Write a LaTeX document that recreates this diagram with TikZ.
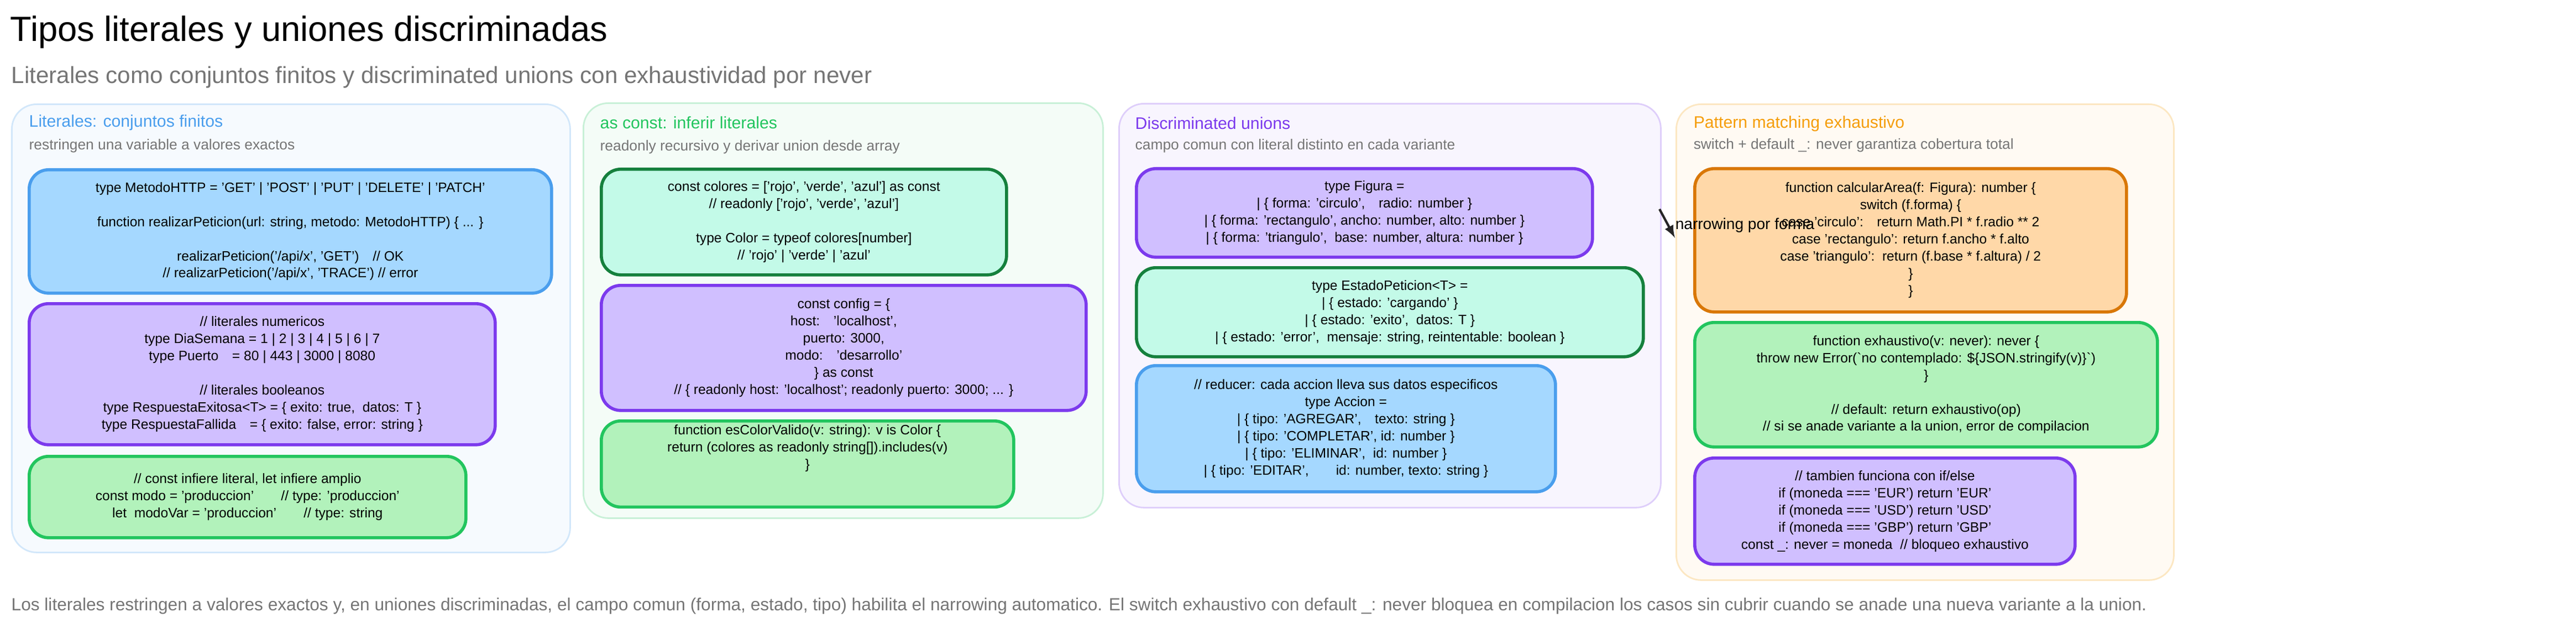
\documentclass[tikz,border=0pt]{standalone}
\usepackage{fontspec}
\setmainfont{Liberation Sans}
\usetikzlibrary{positioning}

\definecolor{azulF}{HTML}{A5D8FF}\definecolor{azulL}{HTML}{4A9EED}
\definecolor{violF}{HTML}{D0BFFF}\definecolor{violL}{HTML}{7C3AED}
\definecolor{verdeF}{HTML}{B2F2BB}\definecolor{verdeL}{HTML}{22C55E}
\definecolor{mentaF}{HTML}{C3FAE8}\definecolor{mentaL}{HTML}{15803D}
\definecolor{naraF}{HTML}{FFD8A8}\definecolor{naraL}{HTML}{D97706}
\definecolor{ambarT}{HTML}{F59E0B}\definecolor{grisT}{HTML}{757575}

\tikzset{
  panel/.style={draw=#1!25,fill=#1!5,line width=0.8pt,rounded corners=0.45cm,anchor=north west,inner sep=0pt},
  box/.style={draw=#1L,fill=#1F,line width=1.6pt,rounded corners=0.35cm,anchor=north west,
    align=center,inner sep=2pt,font=\fontsize{7}{8.8}\selectfont},
  ptitle/.style={anchor=west,inner sep=0pt,font=\fontsize{8.6}{10}\selectfont,text=#1},
  psub/.style={anchor=west,inner sep=0pt,font=\fontsize{7.5}{9}\selectfont,text=grisT}
}

\begin{document}
\begin{tikzpicture}[x=1cm,y=1cm]
  \useasboundingbox (0,0) rectangle (46.6,-11.35);
  \fill[white] (0,0) rectangle (46.6,-11.35);

  % cabecera
  \node[anchor=west,inner sep=0pt,font=\fontsize{18}{20}\selectfont] (titulo) at (0.18,-0.58) {Tipos literales y uniones discriminadas};
  \node[anchor=west,inner sep=0pt,font=\fontsize{12}{14}\selectfont,text=grisT] (subtitulo) at (0.2,-1.40) {Literales como conjuntos finitos y discriminated unions con exhaustividad por never};

  % paneles
  \node[panel=azulL,minimum width=10.1cm,minimum height=8.1cm] (p1) at (0.20,-1.87) {};
  \node[panel=verdeL,minimum width=9.4cm,minimum height=7.5cm] (p2) at (10.54,-1.85) {};
  \node[panel=violL,minimum width=9.8cm,minimum height=7.3cm] (p3) at (20.23,-1.86) {};
  \node[panel=ambarT,minimum width=9.0cm,minimum height=8.6cm] (p4) at (30.31,-1.87) {};

  \node[ptitle=azulL] (t1) at (0.52,-2.22) {Literales: conjuntos finitos};
  \node[psub] (s1) at (0.52,-2.64) {restringen una variable a valores exactos};
  \node[ptitle=verdeL] (t2) at (10.85,-2.22) {as const: inferir literales};
  \node[psub] (s2) at (10.85,-2.66) {readonly recursivo y derivar union desde array};
  \node[ptitle=violL] (t3) at (20.53,-2.23) {Discriminated unions};
  \node[psub] (s3) at (20.53,-2.64) {campo comun con literal distinto en cada variante};
  \node[ptitle=ambarT] (t4) at (30.63,-2.24) {Pattern matching exhaustivo};
  \node[psub] (s4) at (30.63,-2.63) {switch + default \_: never garantiza cobertura total};

  % panel 1
  \node[box=azul,minimum width=9.45cm,minimum height=2.23cm] (metodo) at (0.50,-3.04) {type MetodoHTTP = 'GET' | 'POST' | 'PUT' | 'DELETE' | 'PATCH'\\[8.8pt]
    function realizarPeticion(url: string, metodo: MetodoHTTP) \{ ... \}\\[8.8pt]
    realizarPeticion('/api/x', 'GET')\quad // OK\\
    // realizarPeticion('/api/x', 'TRACE') // error};
  \node[box=viol,minimum width=8.43cm,minimum height=2.55cm] (numericos) at (0.50,-5.46) {// literales numericos\\
    type DiaSemana = 1 | 2 | 3 | 4 | 5 | 6 | 7\\
    type Puerto\quad = 80 | 443 | 3000 | 8080\\[8.8pt]
    // literales booleanos\\
    type RespuestaExitosa<T> = \{ exito: true,\ \ datos: T \}\\
    type RespuestaFallida\quad = \{ exito: false, error: string \}};
  \node[box=verde,minimum width=7.90cm,minimum height=1.47cm] (inferencia) at (0.50,-8.22) {// const infiere literal, let infiere amplio\\
    const modo = 'produccion'\qquad // type: 'produccion'\\
    let\ \ modoVar = 'produccion'\qquad // type: string};

  % panel 2
  \node[box=menta,minimum width=7.33cm,minimum height=1.91cm] (colores) at (10.85,-3.03) {const colores = ['rojo', 'verde', 'azul'] as const\\
    // readonly ['rojo', 'verde', 'azul']\\[8.8pt]
    type Color = typeof colores[number]\\
    // 'rojo' | 'verde' | 'azul'};
  \node[box=viol,minimum width=8.77cm,minimum height=2.26cm] (config) at (10.85,-5.13) {const config = \{\\
    host:\quad 'localhost',\\
    puerto: 3000,\\
    modo:\quad 'desarrollo'\\
    \} as const\\
    // \{ readonly host: 'localhost'; readonly puerto: 3000; ... \}};
  \node[box=verde,minimum width=7.46cm,minimum height=1.45cm] (esvalido) at (10.85,-7.58) {function esColorValido(v: string): v is Color \{\\
    return (colores as readonly string[]).includes(v)\\
    \}\\[8.8pt]};

  % panel 3
  \node[box=viol,minimum width=8.25cm,minimum height=1.60cm] (figura) at (20.53,-3.02) {type Figura =\\
    | \{ forma: 'circulo',\quad radio: number \}\\
    | \{ forma: 'rectangulo', ancho: number, alto: number \}\\
    | \{ forma: 'triangulo',\ \ base: number, altura: number \}};
  \node[box=menta,minimum width=9.17cm,minimum height=1.61cm] (estado) at (20.53,-4.81) {type EstadoPeticion<T> =\\
    | \{ estado: 'cargando' \}\\
    | \{ estado: 'exito',\ \ datos: T \}\\
    | \{ estado: 'error',\ \ mensaje: string, reintentable: boolean \}};
  \node[box=azul,minimum width=7.58cm,minimum height=2.28cm] (accion) at (20.53,-6.58) {// reducer: cada accion lleva sus datos especificos\\
    type Accion =\\
    | \{ tipo: 'AGREGAR',\quad texto: string \}\\
    | \{ tipo: 'COMPLETAR', id: number \}\\
    | \{ tipo: 'ELIMINAR',\ \ id: number \}\\
    | \{ tipo: 'EDITAR',\qquad id: number, texto: string \}};

  % panel 4
  \node[box=nara,minimum width=7.81cm,minimum height=2.59cm] (area) at (30.63,-3.02) {function calcularArea(f: Figura): number \{\\
    switch (f.forma) \{\\
    case 'circulo':\quad return Math.PI * f.radio ** 2\\
    case 'rectangulo': return f.ancho * f.alto\\
    case 'triangulo':\ \ return (f.base * f.altura) / 2\\
    \}\\
    \}};
  \node[box=verde,minimum width=8.37cm,minimum height=2.25cm] (exhaustivo) at (30.63,-5.80) {function exhaustivo(v: never): never \{\\
    throw new Error(\textasciigrave no contemplado: \$\{JSON.stringify(v)\}\textasciigrave)\\
    \}\\[8.8pt]
    // default: return exhaustivo(op)\\
    // si se anade variante a la union, error de compilacion};
  \node[box=viol,minimum width=6.88cm,minimum height=1.92cm] (moneda) at (30.63,-8.25) {// tambien funciona con if/else\\
    if (moneda === 'EUR') return 'EUR'\\
    if (moneda === 'USD') return 'USD'\\
    if (moneda === 'GBP') return 'GBP'\\
    const \_: never = moneda\ \ // bloqueo exhaustivo};

  % flecha
  \coordinate (desde) at (30.02,-3.78);
  \coordinate (hasta) at (30.30,-4.30);
  \draw[-latex,line width=1.2pt,black!85] (desde) -- (hasta);
  \node[anchor=west,inner sep=0pt,font=\fontsize{8}{9}\selectfont] (narrowing) at (30.30,-4.07) {narrowing por forma};

  % pie
  \node[anchor=west,inner sep=0pt,font=\fontsize{9}{11}\selectfont,text=grisT] (pie) at (0.2,-10.95) {Los literales restringen a valores exactos y, en uniones discriminadas, el campo comun (forma, estado, tipo) habilita el narrowing automatico. El switch exhaustivo con default \_: never bloquea en compilacion los casos sin cubrir cuando se anade una nueva variante a la union.};
\end{tikzpicture}
\end{document}
